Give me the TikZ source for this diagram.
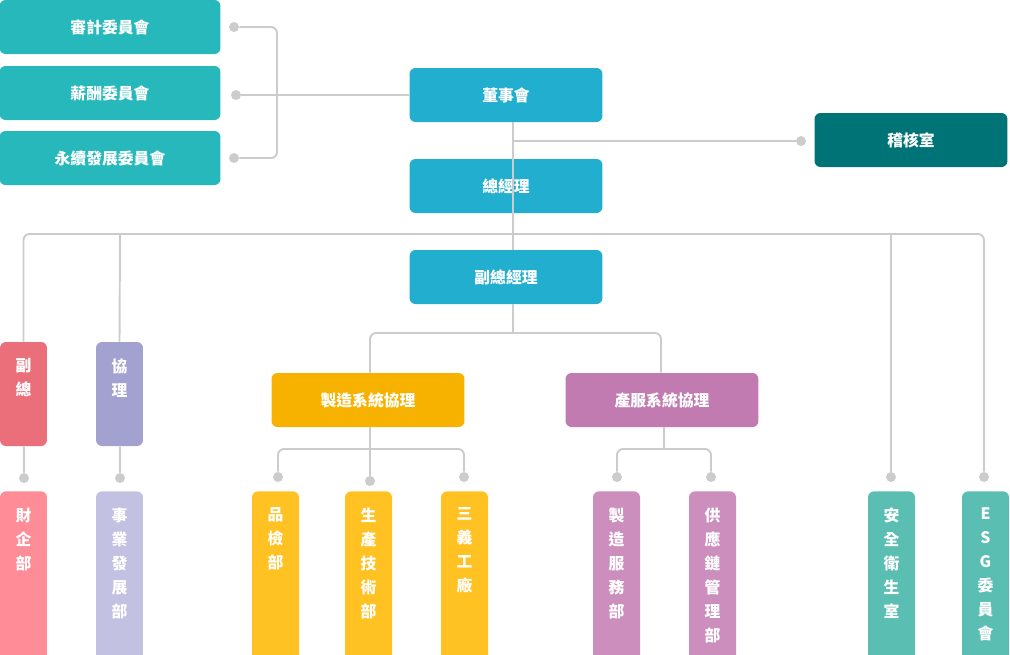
\documentclass[tikz,border=0pt]{standalone}
\usepackage{fontspec}
\setmainfont{Noto Sans CJK TC}
\usetikzlibrary{positioning}
\definecolor{committee}{HTML}{26B8BB}
\definecolor{board}{HTML}{22AECE}
\definecolor{audit}{HTML}{007377}
\definecolor{vp}{HTML}{EA6F7B}
\definecolor{vplight}{HTML}{FF8C96}
\definecolor{asst}{HTML}{A3A1CF}
\definecolor{asstlight}{HTML}{C2C1E2}
\definecolor{mfg}{HTML}{F7B200}
\definecolor{mfglight}{HTML}{FFC222}
\definecolor{svc}{HTML}{C27BB0}
\definecolor{svclight}{HTML}{CC8FBD}
\definecolor{safe}{HTML}{5ABFB2}
\definecolor{wire}{HTML}{CCCCCC}
\newcommand{\vtext}[2]{\parbox[c][#1][t]{1.2em}{\centering\vspace{0.33cm}\baselineskip=0.48cm #2\par}}
\begin{document}
\begin{tikzpicture}[x=0.02cm,y=-0.02cm]

		% Define styles
		\tikzset{
			box/.style={rectangle, rounded corners=0.12cm, inner sep=0pt,
				minimum width=3.86cm, minimum height=1.08cm, text=white,
				font=\bfseries\fontsize{9}{11}\selectfont},
			small/.style={box, minimum width=0.94cm},
			dept/.style={small, anchor=north},
			link/.style={draw=wire, line width=1.1pt, rounded corners=0.12cm},
			dot/.style={circle, fill=wire, inner sep=0pt, minimum size=0.2cm}
		}
		\clip (0,0) rectangle (1010,654);

		% Nodes
		\node (audc) [box, fill=committee, minimum width=4.42cm] at (110,27) {審計委員會};
		\node (payc) [box, fill=committee, minimum width=4.42cm] at (110,93) {薪酬委員會};
		\node (susc) [box, fill=committee, minimum width=4.42cm] at (110,158) {永續發展委員會};
		\node (board) [box, fill=board] at (506,95) {董事會};
		\node (audit) [box, fill=audit] at (911,140) {稽核室};
		\node (ceo) [box, fill=board] at (506,186) {總經理};
		\node (vgm) [box, fill=board] at (506,277) {副總經理};
		\node (mfgm) [box, fill=mfg] at (368,400) {製造系統協理};
		\node (svcm) [box, fill=svc] at (662,400) {產服系統協理};
		\node (vp) [small, fill=vp, minimum height=2.08cm] at (23.5,394) {\vtext{2.08cm}{副\\總}};
		\node (asst) [small, fill=asst, minimum height=2.08cm] at (119.5,394) {\vtext{2.08cm}{協\\理}};

		\node (fin) [dept, fill=vplight, minimum height=3.4cm] at (23.5,491) {\vtext{3.4cm}{財\\企\\部}};
		\node (biz) [dept, fill=asstlight, minimum height=3.4cm] at (119.5,491) {\vtext{3.4cm}{事\\業\\發\\展\\部}};
		\node (qc) [dept, fill=mfglight, minimum height=3.4cm] at (275.5,491) {\vtext{3.4cm}{品\\檢\\部}};
		\node (tech) [dept, fill=mfglight, minimum height=3.4cm] at (368.5,491) {\vtext{3.4cm}{生\\產\\技\\術\\部}};
		\node (plant) [dept, fill=mfglight, minimum height=3.4cm] at (464.5,491) {\vtext{3.4cm}{三\\義\\工\\廠}};
		\node (mserv) [dept, fill=svclight, minimum height=3.4cm] at (616.5,491) {\vtext{3.4cm}{製\\造\\服\\務\\部}};
		\node (scm) [dept, fill=svclight, minimum height=3.4cm] at (712.5,491) {\vtext{3.4cm}{供\\應\\鏈\\管\\理\\部}};
		\node (ehs) [dept, fill=safe, minimum height=3.4cm] at (891.5,491) {\vtext{3.4cm}{安\\全\\衛\\生\\室}};
		\node (esg) [dept, fill=safe, minimum height=3.4cm] at (985.5,491) {\vtext{3.4cm}{E\\S\\G\\委\\員\\會}};

		% Dots
		\node (d1) [dot] at (234,27) {};
		\node (d2) [dot] at (236,95) {};
		\node (d3) [dot] at (234,158) {};
		\node (da) [dot] at (801,141) {};
		\node (dfin) [dot] at (24,478) {};
		\node (dbiz) [dot] at (120,478) {};
		\node (dqc) [dot] at (278,477) {};
		\node (dtech) [dot] at (370,481) {};
		\node (dplant) [dot] at (464,477) {};
		\node (dms) [dot] at (617,477) {};
		\node (dscm) [dot] at (711,477) {};
		\node (dehs) [dot] at (891,477) {};
		\node (desg) [dot] at (984,477) {};

		% Connectors
		\draw [link] (d1) -| (277,95) |- (d3);
		\draw [link] (d2) -- (board);
		\draw [link] (513,122) -- (513,250);
		\draw [link] (513,141) -- (da);
		\draw [link] (vp.north) |- (513,234);
		\draw [link] (asst.north) -- (120,234);
		\draw [link] (dfin) -- (vp);
		\draw [link] (dbiz) -- (asst);
		\draw [link] (513,234) -| (desg);
		\draw [link] (891,234) -- (dehs);
		\draw [link] (513,304) -- (513,333);
		\draw [link] (mfgm.north -| 370,0) |- (513,333) -| (svcm.north -| 661,0);
		\draw [link] (mfgm.south -| 370,0) -- (dtech);
		\draw [link] (dqc) |- (370,449) -| (dplant);
		\draw [link] (svcm.south -| 664,0) -- (664,449);
		\draw [link] (dms) |- (664,449) -| (dscm);
	\end{tikzpicture}
\end{document}
